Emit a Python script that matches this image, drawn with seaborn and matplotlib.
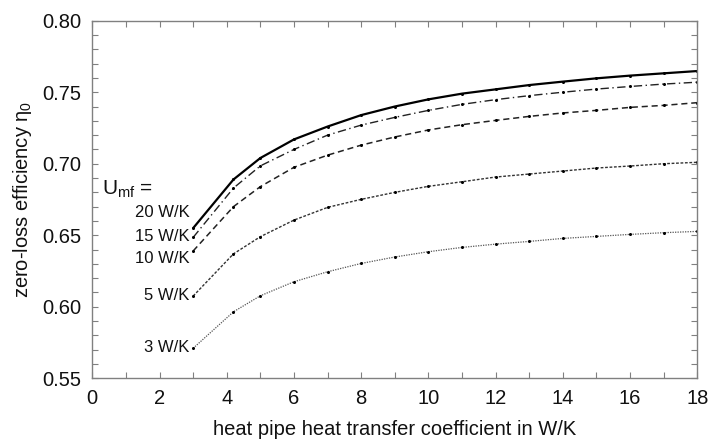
import numpy as np
import pandas as pd
import matplotlib
matplotlib.use("Agg")
import matplotlib.pyplot as plt
import seaborn as sns
from matplotlib.ticker import MultipleLocator

# heat pipe heat transfer coefficient (W/K)
x_vals = [3, 4.2, 5, 6, 7, 8, 9, 10, 11, 12, 13, 14, 15, 16, 17, 18]

# zero-loss efficiency for each Umf
eta_20 = [0.655, 0.689, 0.704, 0.717, 0.726, 0.734, 0.740, 0.745, 0.749, 0.752,
          0.755, 0.7574, 0.7597, 0.7616, 0.7632, 0.7648]
eta_15 = [0.6485, 0.683, 0.6985, 0.710, 0.720, 0.727, 0.7324, 0.7373, 0.7415, 0.7448,
          0.7476, 0.750, 0.7522, 0.754, 0.7557, 0.757]
eta_10 = [0.639, 0.670, 0.684, 0.6975, 0.706, 0.713, 0.7187, 0.7236, 0.7273, 0.7303,
          0.7331, 0.7355, 0.7373, 0.7394, 0.7408, 0.7427]
eta_5 = [0.6075, 0.637, 0.649, 0.6606, 0.6695, 0.6751, 0.680, 0.6842, 0.6874, 0.6907,
         0.6928, 0.6949, 0.697, 0.6984, 0.700, 0.701]
eta_3 = [0.571, 0.5965, 0.6077, 0.6175, 0.6245, 0.6303, 0.6348, 0.6385, 0.6415, 0.6438,
         0.6457, 0.6478, 0.6492, 0.6506, 0.6518, 0.6527]

labels = ["20 W/K", "15 W/K", "10 W/K", "5 W/K", "3 W/K"]
label_y = [0.666, 0.6494, 0.6338, 0.6077, 0.5716]

series = [eta_20, eta_15, eta_10, eta_5, eta_3]
styles = [
    dict(linestyle="-", linewidth=1.6, color="black"),
    dict(linestyle=(0, (6, 2.5, 1, 2.5)), linewidth=1.0, color="#222222"),
    dict(linestyle=(0, (4, 2.5)), linewidth=1.1, color="#222222"),
    dict(linestyle=(0, (2, 1.2)), linewidth=1.0, color="#333333"),
    dict(linestyle=(0, (1, 1)), linewidth=0.9, color="#555555"),
]

sns.set_theme(style="ticks")
plt.rcParams["font.family"] = ["Liberation Sans", "DejaVu Sans"]
plt.rcParams["mathtext.fontset"] = "custom"
plt.rcParams["mathtext.rm"] = "Liberation Sans"
plt.rcParams["mathtext.it"] = "Liberation Sans"

fig = plt.figure(figsize=(7.09, 4.42), dpi=100)
ax = fig.add_axes([0.1302, 0.1441, 0.8533, 0.8091])

for y, st in zip(series, styles):
    df = pd.DataFrame({"x": x_vals, "y": y})
    sns.lineplot(data=df, x="x", y="y", ax=ax, marker="o", markersize=2.2,
                 markeredgewidth=0, markerfacecolor="black", **st)

for lab, ly in zip(labels, label_y):
    ax.text(2.9, ly, lab, ha="right", va="center", fontsize=12, color="#111111")
ax.text(0.3, 0.682, r"U$_{\mathregular{mf}}$ =", ha="left", va="center",
        fontsize=15, color="#111111")

ax.set_xlim(0, 18)
ax.set_ylim(0.55, 0.80)
ax.xaxis.set_major_locator(MultipleLocator(2))
ax.xaxis.set_minor_locator(MultipleLocator(1))
ax.yaxis.set_major_locator(MultipleLocator(0.05))
ax.yaxis.set_minor_locator(MultipleLocator(0.01))
ax.yaxis.set_major_formatter(matplotlib.ticker.FormatStrFormatter("%.2f"))

ax.tick_params(which="both", direction="in", top=True, right=True,
               length=4, width=0.8, color="#808080", labelsize=14.5,
               labelcolor="#111111", pad=8)
for sp in ax.spines.values():
    sp.set_color("#808080")
    sp.set_linewidth(1.0)

ax.set_xlabel("heat pipe heat transfer coefficient in W/K", fontsize=14.5,
              color="#111111", labelpad=8)
ax.set_ylabel(r"zero-loss efficiency $\eta_0$", fontsize=14.5, color="#111111",
              labelpad=6)

fig.savefig("out.png", dpi=100)
